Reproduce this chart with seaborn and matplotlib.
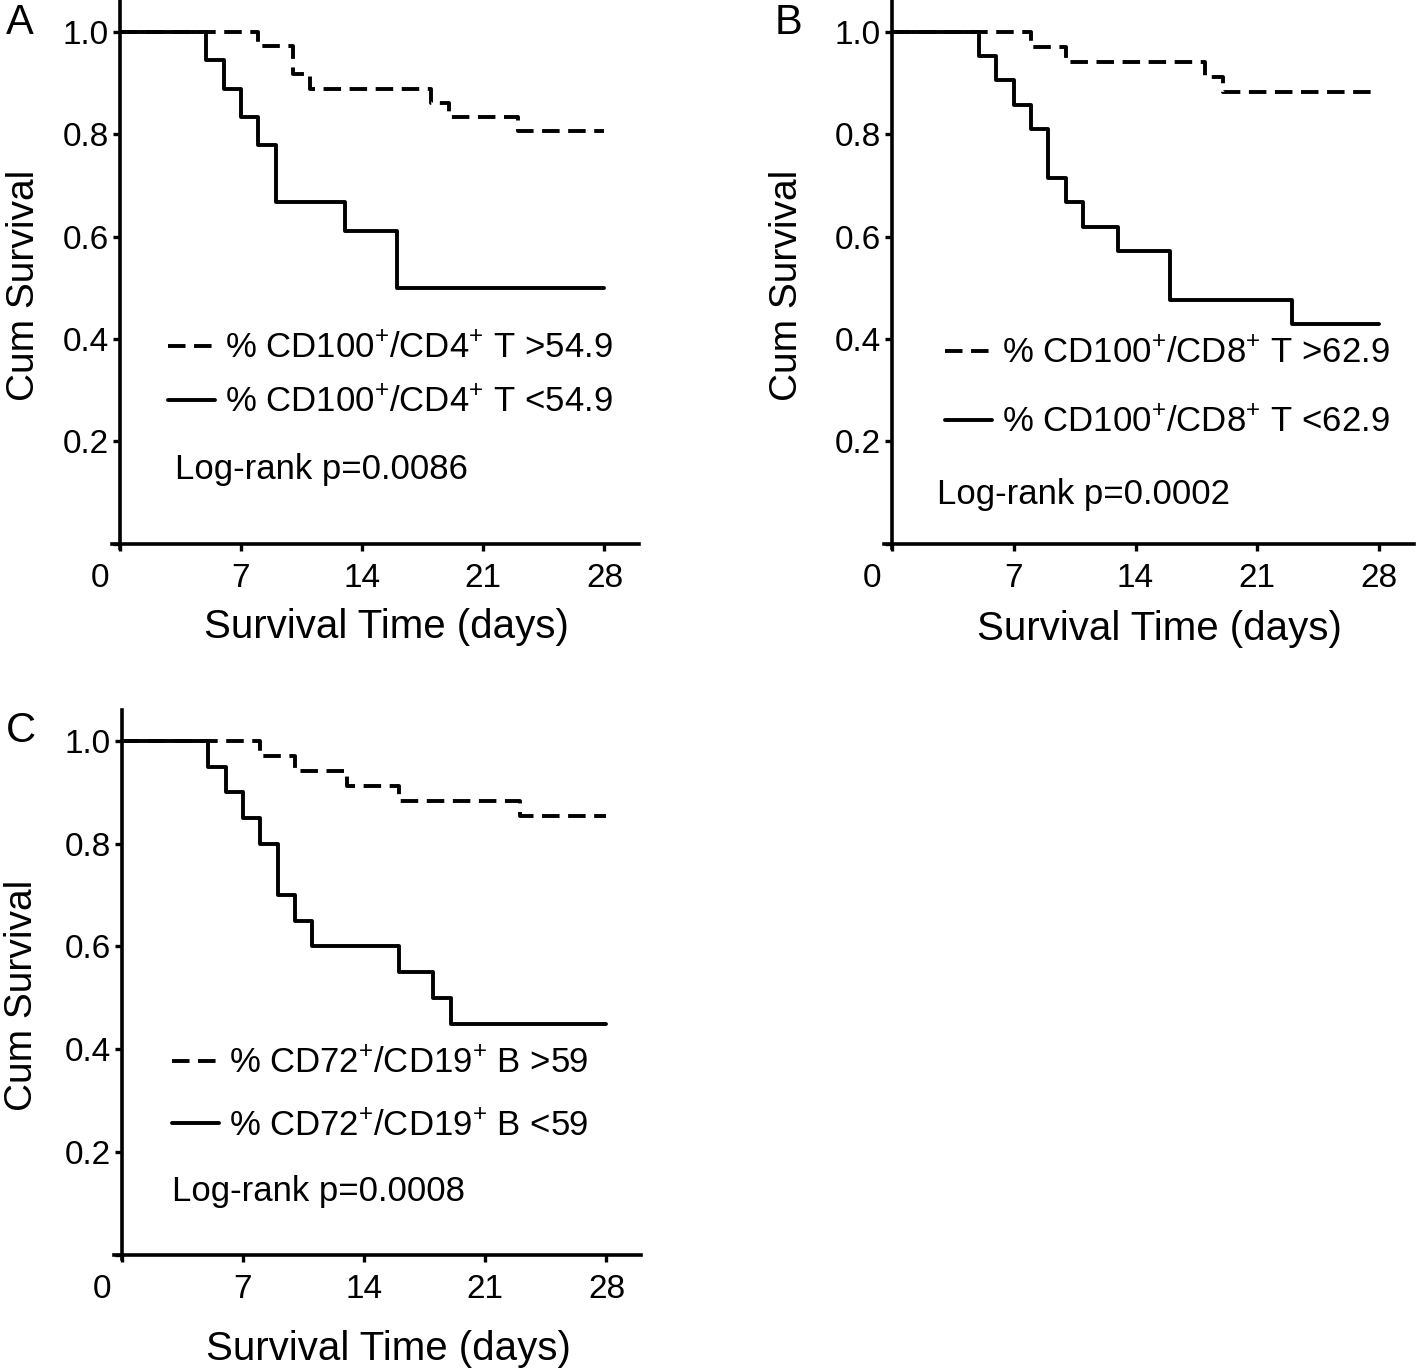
import numpy as np
import pandas as pd
import seaborn as sns
import matplotlib.pyplot as plt
from matplotlib.transforms import ScaledTranslation

# Kaplan-Meier step values
a_hi_t = [0, 8, 10, 11, 18, 19, 23, 28]
a_hi_s = [1.0, 0.972, 0.917, 0.889, 0.861, 0.833, 0.806, 0.806]
a_lo_t = [0, 5, 6, 7, 8, 9, 13, 16, 28]
a_lo_s = [1.0, 0.944, 0.889, 0.833, 0.778, 0.667, 0.611, 0.5, 0.5]

b_hi_t = [0, 8, 10, 18, 19, 28]
b_hi_s = [1.0, 0.971, 0.941, 0.912, 0.882, 0.882]
b_lo_t = [0, 5, 6, 7, 8, 9, 10, 11, 13, 16, 23, 28]
b_lo_s = [1.0, 0.952, 0.905, 0.857, 0.810, 0.714, 0.667, 0.619, 0.571, 0.476, 0.429, 0.429]

c_hi_t = [0, 8, 10, 13, 16, 23, 28]
c_hi_s = [1.0, 0.971, 0.941, 0.912, 0.882, 0.853, 0.853]
c_lo_t = [0, 5, 6, 7, 8, 9, 10, 11, 16, 18, 19, 28]
c_lo_s = [1.0, 0.95, 0.9, 0.85, 0.8, 0.7, 0.65, 0.6, 0.55, 0.5, 0.45, 0.45]

labels_a = [r'% CD100$^{+}$/CD4$^{+}$ T >54.9', r'% CD100$^{+}$/CD4$^{+}$ T <54.9']
labels_b = [r'% CD100$^{+}$/CD8$^{+}$ T >62.9', r'% CD100$^{+}$/CD8$^{+}$ T <62.9']
labels_c = [r'% CD72$^{+}$/CD19$^{+}$ B >59', r'% CD72$^{+}$/CD19$^{+}$ B <59']
pvals = ['Log-rank p=0.0086', 'Log-rank p=0.0002', 'Log-rank p=0.0008']

x_ticks = [0, 7, 14, 21, 28]
y_ticks = [0, 0.2, 0.4, 0.6, 0.8, 1.0]
y_ticklabels = ['', '0.2', '0.4', '0.6', '0.8', '1.0']

sns.set_style('ticks')
plt.rcParams['font.family'] = ['Liberation Sans', 'DejaVu Sans']
plt.rcParams['mathtext.fontset'] = 'custom'
plt.rcParams['mathtext.rm'] = 'Liberation Sans'
plt.rcParams['mathtext.it'] = 'Liberation Sans:italic'
plt.rcParams['mathtext.bf'] = 'Liberation Sans:bold'
plt.rcParams['text.color'] = 'black'
plt.rcParams['axes.labelcolor'] = 'black'
plt.rcParams['xtick.color'] = 'black'
plt.rcParams['ytick.color'] = 'black'

fig = plt.figure(figsize=(14.18, 13.72), dpi=100)

panels = [
    dict(rect=[0.0790, 0.6006, 0.3717, 0.3987], hi=(a_hi_t, a_hi_s), lo=(a_lo_t, a_lo_s),
         labels=labels_a, leg=(0.106, 0.395), ls=0.6, p=(0.12, 0.143), pv=pvals[0],
         ylx=-0.133, xly=-0.11, letter='A', lpos=(0.004, 0.998)),
    dict(rect=[0.6234, 0.6006, 0.3738, 0.3987], hi=(b_hi_t, b_hi_s), lo=(b_lo_t, b_lo_s),
         labels=labels_b, leg=(0.115, 0.386), ls=1.05, p=(0.10, 0.097), pv=pvals[1],
         ylx=-0.149, xly=-0.113, letter='B', lpos=(0.546, 0.998)),
    dict(rect=[0.0804, 0.0824, 0.3717, 0.4001], hi=(c_hi_t, c_hi_s), lo=(c_lo_t, c_lo_s),
         labels=labels_c, leg=(0.11, 0.386), ls=0.85, p=(0.11, 0.122), pv=pvals[2],
         ylx=-0.140, xly=-0.129, letter='C', lpos=(0.004, 0.482)),
]

for p in panels:
    ax = fig.add_axes(p['rect'])
    sns.lineplot(x=p['hi'][0], y=p['hi'][1], ax=ax, color='black', lw=2.8,
                 drawstyle='steps-post', linestyle=(0, (4.5, 2.2)), estimator=None,
                 errorbar=None, sort=False, label=p['labels'][0])
    sns.lineplot(x=p['lo'][0], y=p['lo'][1], ax=ax, color='black', lw=2.8,
                 drawstyle='steps-post', linestyle='-', estimator=None,
                 errorbar=None, sort=False, label=p['labels'][1])

    ax.set_xlim(-0.45, 30)
    ax.set_ylim(-0.008, 1.06)
    ax.spines['left'].set_position(('data', 0))
    ax.spines['bottom'].set_position(('data', 0))
    ax.spines['right'].set_visible(False)
    ax.spines['top'].set_visible(False)
    for s in ['left', 'bottom']:
        ax.spines[s].set_linewidth(2.6)
        ax.spines[s].set_color('black')
    ax.spines['bottom'].set_bounds(-0.45, 30)

    ax.set_xticks(x_ticks)
    ax.set_yticks(y_ticks)
    ax.set_yticklabels(y_ticklabels)
    ax.tick_params(axis='both', direction='out', length=5, width=2.4, colors='black',
                   labelsize=24)
    ax.tick_params(axis='x', pad=9)
    ax.tick_params(axis='y', pad=3)
    lab0 = ax.get_xticklabels()[0]
    lab0.set_transform(lab0.get_transform() + ScaledTranslation(-0.2, 0, fig.dpi_scale_trans))

    ax.set_xlabel('Survival Time (days)', fontsize=29)
    ax.set_ylabel('Cum Survival', fontsize=28)
    ax.xaxis.set_label_coords(0.52, p['xly'])
    ax.yaxis.set_label_coords(p['ylx'], 0.48)

    ax.legend(loc='upper left', bbox_to_anchor=p['leg'], frameon=False, fontsize=25,
              handlelength=1.35, handletextpad=0.3, labelspacing=p['ls'], borderpad=0,
              borderaxespad=0)
    ax.text(p['p'][0], p['p'][1], p['pv'], transform=ax.transAxes, fontsize=25,
            ha='left', va='center')

    fig.text(p['lpos'][0], p['lpos'][1], p['letter'], fontsize=30, ha='left', va='top')

fig.savefig('out.png', dpi=100, facecolor='white')
